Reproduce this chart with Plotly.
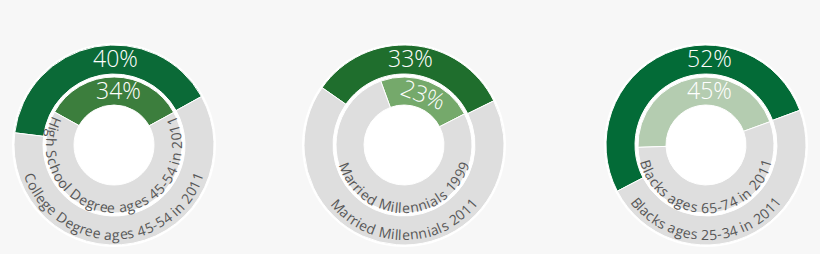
import math
import plotly.graph_objects as go

# ---- data ----
outer_pct = [40, 33, 52]
inner_pct = [34, 23, 45]
outer_labels = ["College Degree ages 45-54 in 2011",
                "Married Millennials 2011",
                "Blacks ages 25-34 in 2011"]
inner_labels = ["High School Degree ages 45-54 in 2011",
                "Married Millennials 1999",
                "Blacks ages 65-74 in 2011"]

# ---- style / layout ----
W, H = 820, 254
centers_x = [114, 404, 706]
center_y = 145
R_BASE = 102
R_OUT, HOLE_OUT = 100, 71
R_IN, HOLE_IN = 68, 40
outer_colors = ["#0b6a37", "#1f6e2d", "#036b37"]
inner_colors = ["#3c7e3d", "#75a96b", "#b4ccb0"]
GRAY = "#dedede"
BG = "#f7f7f7"
LABEL_COLOR = "#575757"
outer_rot = [-83, -55, -117.5]
inner_rot = [-61, -20, -92]
pct_angle_outer = [1, 4, 2]
pct_angle_inner = [5, 21, 4]
pct_tilt_inner = [False, True, False]
PCT_R_OUT, PCT_R_IN = 87, 55
PCT_SIZE = 23
LBL_SIZE = 14
LBL_R_OUT, LBL_R_IN = 89.5, 62.5

# approximate Open Sans advance widths (units per em = 2048)
ADV = {' ': 532, '-': 659, '%': 1706,
       'B': 1327, 'C': 1292, 'D': 1493, 'H': 1511, 'M': 1849, 'S': 1124,
       'a': 1139, 'b': 1255, 'c': 975, 'd': 1255, 'e': 1149, 'g': 1122,
       'h': 1257, 'i': 518, 'k': 1075, 'l': 518, 'm': 1905, 'n': 1257,
       'o': 1237, 'r': 836, 's': 977, 't': 723}
for dch in "0123456789":
    ADV[dch] = 1171


def to_paper(px, py):
    return px / W, (H - py) / H


def polar(cx, r, ang):
    a = math.radians(ang)
    return cx + r * math.sin(a), center_y - r * math.cos(a)


def dom(cx, r):
    x0, y0 = to_paper(cx - r, center_y + r)
    x1, y1 = to_paper(cx + r, center_y - r)
    return dict(x=[x0, x1], y=[y0, y1])


fig = go.Figure()
annotations = []

for k in range(3):
    cx = centers_x[k]
    # white base disk
    fig.add_trace(go.Pie(values=[1], marker=dict(colors=["#ffffff"], line=dict(width=0)),
                         domain=dom(cx, R_BASE), textinfo="none", hoverinfo="skip",
                         sort=False, showlegend=False))
    # outer ring
    fig.add_trace(go.Pie(values=[outer_pct[k], 100 - outer_pct[k]],
                         marker=dict(colors=[outer_colors[k], GRAY], line=dict(color="#ffffff", width=1)),
                         hole=HOLE_OUT / R_OUT, rotation=outer_rot[k], direction="clockwise",
                         domain=dom(cx, R_OUT), textinfo="none", hoverinfo="skip",
                         sort=False, showlegend=False))
    # inner ring
    fig.add_trace(go.Pie(values=[inner_pct[k], 100 - inner_pct[k]],
                         marker=dict(colors=[inner_colors[k], GRAY], line=dict(color="#ffffff", width=1)),
                         hole=HOLE_IN / R_IN, rotation=inner_rot[k], direction="clockwise",
                         domain=dom(cx, R_IN), textinfo="none", hoverinfo="skip",
                         sort=False, showlegend=False))

    # percentage labels
    for val, r, ang, tilt in ((outer_pct[k], PCT_R_OUT, pct_angle_outer[k], False),
                              (inner_pct[k], PCT_R_IN, pct_angle_inner[k], pct_tilt_inner[k])):
        px, py = polar(cx, r, ang)
        x, y = to_paper(px, py)
        annotations.append(dict(x=x, y=y, xref="paper", yref="paper", text=f"{val}%",
                                showarrow=False, xanchor="center", yanchor="middle",
                                textangle=ang if tilt else 0,
                                font=dict(family="Open Sans", size=PCT_SIZE, color="#ffffff", weight=300)))

    # curved labels along the bottom
    for text, r in ((outer_labels[k], LBL_R_OUT), (inner_labels[k], LBL_R_IN)):
        widths = [ADV.get(ch, 1100) / 2048 * LBL_SIZE for ch in text]
        total = sum(widths)
        start = 180 + math.degrees(total / 2 / r)
        s = 0.0
        for ch, w in zip(text, widths):
            mid = s + w / 2
            s += w
            if ch == ' ':
                continue
            ang = start - math.degrees(mid / r)
            px, py = polar(cx, r, ang)
            x, y = to_paper(px, py)
            annotations.append(dict(x=x, y=y, xref="paper", yref="paper", text=ch,
                                    showarrow=False, xanchor="center", yanchor="middle",
                                    textangle=ang - 180, borderpad=0,
                                    font=dict(family="Open Sans", size=LBL_SIZE, color=LABEL_COLOR)))

fig.update_layout(width=W, height=H, margin=dict(l=0, r=0, t=0, b=0),
                  paper_bgcolor=BG, plot_bgcolor=BG, annotations=annotations)
fig.write_html("out.html")
